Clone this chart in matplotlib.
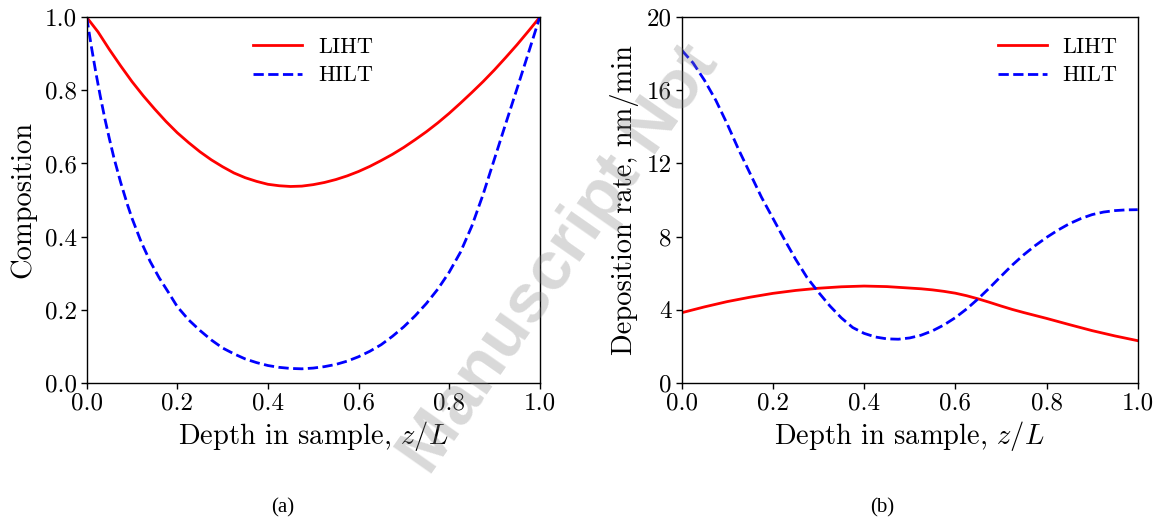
import matplotlib
matplotlib.use("Agg")
import matplotlib.pyplot as plt

# ---------------- data ----------------
# Panel (a): composition vs depth
depth_a_liht = [0.000, 0.025, 0.050, 0.075, 0.100, 0.125, 0.150, 0.175, 0.200, 0.225,
                0.250, 0.275, 0.300, 0.325, 0.350, 0.375, 0.400, 0.425, 0.450, 0.475,
                0.500, 0.525, 0.550, 0.575, 0.600, 0.625, 0.650, 0.675, 0.700, 0.725,
                0.750, 0.775, 0.800, 0.825, 0.850, 0.875, 0.900, 0.925, 0.950, 0.975, 1.000]
comp_liht = [1.000, 0.960, 0.912, 0.867, 0.824, 0.785, 0.749, 0.715, 0.684, 0.657,
             0.632, 0.610, 0.591, 0.574, 0.561, 0.551, 0.543, 0.539, 0.537, 0.538,
             0.542, 0.548, 0.556, 0.566, 0.578, 0.592, 0.608, 0.625, 0.644, 0.665,
             0.687, 0.711, 0.737, 0.765, 0.794, 0.824, 0.856, 0.890, 0.925, 0.962, 1.000]

depth_a_hilt = [0.00, 0.01, 0.02, 0.03, 0.04, 0.05, 0.06, 0.075, 0.09, 0.10, 0.12, 0.14,
                0.16, 0.18, 0.200, 0.225, 0.250, 0.275, 0.300, 0.325, 0.350, 0.375,
                0.400, 0.425, 0.450, 0.475, 0.500, 0.525, 0.550, 0.575, 0.600, 0.625,
                0.650, 0.675, 0.700, 0.725, 0.750, 0.775, 0.800, 0.825, 0.850, 0.875,
                0.900, 0.925, 0.950, 0.975, 1.000]
comp_hilt = [1.000, 0.922, 0.850, 0.784, 0.723, 0.668, 0.616, 0.548, 0.487, 0.450, 0.386, 0.332,
             0.287, 0.248, 0.208, 0.172, 0.143, 0.117, 0.095, 0.079, 0.065, 0.055,
             0.047, 0.042, 0.039, 0.038, 0.040, 0.044, 0.050, 0.059, 0.071, 0.086,
             0.104, 0.127, 0.153, 0.183, 0.217, 0.256, 0.302, 0.357, 0.428, 0.515,
             0.612, 0.709, 0.805, 0.902, 1.000]

# Panel (b): deposition rate vs depth
depth_b_liht = [0.000, 0.050, 0.100, 0.150, 0.200, 0.250, 0.300, 0.350, 0.400, 0.450,
                0.500, 0.525, 0.550, 0.575, 0.600, 0.625, 0.650, 0.675, 0.700, 0.725,
                0.750, 0.775, 0.800, 0.850, 0.900, 0.950, 1.000]
rate_liht = [3.83, 4.15, 4.44, 4.68, 4.89, 5.05, 5.17, 5.25, 5.29, 5.26,
             5.18, 5.14, 5.08, 5.00, 4.90, 4.76, 4.59, 4.40, 4.20, 4.01,
             3.84, 3.68, 3.52, 3.18, 2.85, 2.56, 2.30]

depth_b_hilt = [0.000, 0.025, 0.050, 0.075, 0.100, 0.125, 0.150, 0.175, 0.200, 0.225,
                0.250, 0.275, 0.300, 0.325, 0.350, 0.375, 0.400, 0.425, 0.450, 0.475,
                0.500, 0.525, 0.550, 0.575, 0.600, 0.625, 0.650, 0.675, 0.700, 0.725,
                0.750, 0.775, 0.800, 0.825, 0.850, 0.875, 0.900, 0.925, 0.950, 0.975, 1.000]
rate_hilt = [18.2, 17.5, 16.55, 15.45, 14.15, 12.75, 11.45, 10.15, 9.0, 7.85,
             6.75, 5.75, 4.95, 4.2, 3.55, 3.02, 2.70, 2.50, 2.40, 2.38,
             2.45, 2.60, 2.84, 3.16, 3.56, 4.04, 4.59, 5.19, 5.82, 6.44,
             7.00, 7.50, 7.95, 8.35, 8.70, 8.98, 9.20, 9.34, 9.42, 9.46, 9.47]

series_labels = ["LIHT", "HILT"]
x_ticks = [0.0, 0.2, 0.4, 0.6, 0.8, 1.0]
x_ticklabels = ["0.0", "0.2", "0.4", "0.6", "0.8", "1.0"]
ya_ticks = [0.0, 0.2, 0.4, 0.6, 0.8, 1.0]
ya_ticklabels = ["0.0", "0.2", "0.4", "0.6", "0.8", "1.0"]
yb_ticks = [0, 4, 8, 12, 16, 20]
yb_ticklabels = ["0", "4", "8", "12", "16", "20"]
xlabel = r"Depth in sample, $z/L$"
ylabel_a = "Composition"
ylabel_b = "Deposition rate, nm/min"
captions = ["(a)", "(b)"]

# ---------------- style ----------------
plt.rcParams["font.family"] = "cmr10"
plt.rcParams["mathtext.fontset"] = "cm"
plt.rcParams["axes.unicode_minus"] = False
plt.rcParams["axes.formatter.use_mathtext"] = True

W, H = 1158, 520
fig = plt.figure(figsize=(W / 100, H / 100), dpi=100)

ax_a = fig.add_axes([86.7 / W, (H - 382.7) / H, 453 / W, 365.4 / H])
ax_b = fig.add_axes([681.7 / W, (H - 382.7) / H, 456 / W, 365.4 / H])

lw = 2.0
tick_fs = 18
label_fs = 20.5
leg_fs = 16

for ax in (ax_a, ax_b):
    for sp in ax.spines.values():
        sp.set_linewidth(1.0)
        sp.set_color("black")
    ax.tick_params(direction="out", length=4, width=1.0, labelsize=tick_fs, pad=3)
    ax.set_xlim(0, 1)
    ax.set_xticks(x_ticks)
    ax.set_xticklabels(x_ticklabels)
    ax.set_xlabel(xlabel, fontsize=label_fs, labelpad=3)

ax_a.plot(depth_a_liht, comp_liht, color="red", lw=lw, ls="-", label=series_labels[0])
ax_a.plot(depth_a_hilt, comp_hilt, color="blue", lw=lw, ls="--", label=series_labels[1])
ax_a.set_ylim(0, 1)
ax_a.set_yticks(ya_ticks)
ax_a.set_yticklabels(ya_ticklabels)
ax_a.set_ylabel(ylabel_a, fontsize=label_fs, labelpad=6)
ax_a.legend(loc="upper center", frameon=False, fontsize=leg_fs, handlelength=2.2,
            handletextpad=0.7, labelspacing=0.4, borderaxespad=0.5)

ax_b.plot(depth_b_liht, rate_liht, color="red", lw=lw, ls="-", label=series_labels[0])
ax_b.plot(depth_b_hilt, rate_hilt, color="blue", lw=lw, ls="--", label=series_labels[1])
ax_b.set_ylim(0, 20)
ax_b.set_yticks(yb_ticks)
ax_b.set_yticklabels(yb_ticklabels)
ax_b.set_ylabel(ylabel_b, fontsize=label_fs, labelpad=6)
ax_b.legend(loc="upper right", frameon=False, fontsize=leg_fs, handlelength=2.2,
            handletextpad=0.7, labelspacing=0.4, borderaxespad=0.5)

fig.text(283 / W, 1 - 508 / H, captions[0], ha="center", va="center",
         fontsize=15, family=["Liberation Serif"])
fig.text(882 / W, 1 - 508 / H, captions[1], ha="center", va="center",
         fontsize=15, family=["Liberation Serif"])

# watermark
fig.text(560 / W, 1 - 260 / H, "Manuscript Not", ha="center", va="center",
         rotation=55, fontsize=50, fontweight="bold", family=["Liberation Sans"],
         color=(0.5, 0.5, 0.5), alpha=0.3, zorder=10)

fig.savefig("out.png", dpi=100)
